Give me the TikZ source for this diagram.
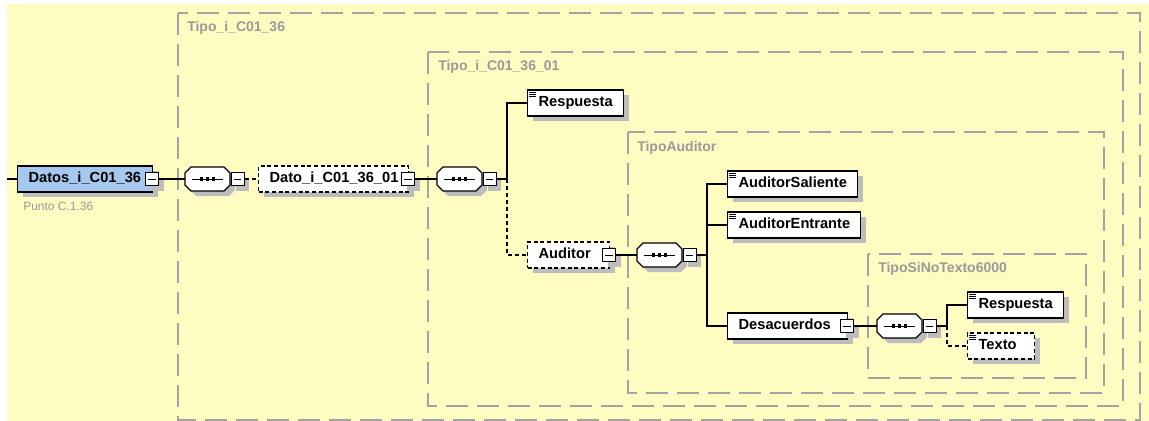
\documentclass[tikz,border=0pt]{standalone}
\usepackage{fontspec}
\setmainfont{Liberation Sans}
\usetikzlibrary{shadows,calc}
\definecolor{bgy}{HTML}{FFFCC1}
\definecolor{cgray}{HTML}{A3A3A3}
\definecolor{lblgray}{HTML}{9A9A9A}
\definecolor{shdgray}{HTML}{BDBDBD}
\definecolor{dblue}{HTML}{A6C8EE}
\newcommand\eltext[2]{\makebox[#1][l]{\hspace{8.25pt}#2}}
\tikzset{
  shd/.style={general shadow={fill=shdgray, shadow xshift=3.75pt, shadow yshift=-3.75pt}},
  elem/.style={draw=black, line width=0.9pt, fill=white, rectangle, inner sep=0pt,
    minimum height=19.5pt, text height=8pt, text depth=2.3pt, anchor=west,
    font=\bfseries\fontsize{11}{13}\selectfont, shd},
  optelem/.style={elem, dash pattern=on 3pt off 2pt},
  minusbtn/.style={draw=black, line width=0.75pt, fill=white, rectangle, inner sep=0pt,
    minimum width=9.75pt, minimum height=9.75pt, shd,
    path picture={\draw[line width=0.75pt] ([xshift=2pt]path picture bounding box.west) -- ([xshift=-2pt]path picture bounding box.east);}},
  cont/.style={draw=cgray, line width=1.1pt, dash pattern=on 16.5pt off 6.75pt},
  clabel/.style={anchor=west, inner sep=0pt, text=lblgray, font=\bfseries\fontsize{10.5}{12}\selectfont},
  plabel/.style={anchor=west, inner sep=0pt, text=lblgray, font=\fontsize{9}{10}\selectfont},
  conn/.style={draw=black, line width=0.9pt},
  optconn/.style={draw=black, line width=0.9pt, dash pattern=on 3pt off 2.25pt},
}
\newcommand\docicon[1]{%
  \draw[line width=0.6pt] ($(#1.north west)+(2,2.5)$) -- ++(7,0)
    ($(#1.north west)+(2,4.5)$) -- ++(7,0)
    ($(#1.north west)+(2,6.5)$) -- ++(7,0);}
\newcommand\seqsym[3]{%
  \node[inner sep=0pt, minimum width=33.75pt, minimum height=18pt, anchor=west] (#1) at (#2,#3) {};
  \begin{scope}[shift={(#2,#3)}]
    \fill[shdgray] (11,-7) -- (44,-7) -- (50,-1) -- (50,11) -- (44,17) -- (11,17) -- (5,11) -- (5,-1) -- cycle;
    \draw[line width=0.9pt, fill=white] (6,-12) -- (39,-12) -- (45,-6) -- (45,6) -- (39,12) -- (6,12) -- (0,6) -- (0,-6) -- cycle;
    \draw[line width=0.75pt] (7,0) -- (38,0);
    \foreach \d in {-6,0,6} \fill ({22.5+\d-1.9},-1.6) rectangle ({22.5+\d+1.9},1.6);
  \end{scope}}
\begin{document}
\begin{tikzpicture}[x=0.75pt,y=-0.75pt]
\useasboundingbox (0,0) rectangle (1149,421);
\fill[bgy] (7,4) rectangle (1149,421);
% containers
\draw[cont] (178,13) rectangle (1140,420);
\node[clabel] (l1) at (187,28) {Tipo\_i\_C01\_36};
\draw[cont] (428,52) rectangle (1123,406);
\node[clabel] (l2) at (438,67) {Tipo\_i\_C01\_36\_01};
\draw[cont] (628,132) rectangle (1104,393);
\node[clabel] (l3) at (637,148) {TipoAuditor};
\draw[cont] (868,254) rectangle (1086,378);
\node[clabel] (l4) at (878,269) {TipoSiNoTexto6000};
% root
\coordinate (in) at (7,179);
\node[elem, fill=dblue] (datos) at (17,179) {\eltext{101.25pt}{Datos\_i\_C01\_36}};
\node[minusbtn] (md) at ([xshift=-0.75pt]datos.east) {};
\node[plabel] (punto) at (23,206) {Punto C.1.36};
\draw[conn] (in) -- (datos.west);
% seq 1
\seqsym{s1}{185}{179}
\node[minusbtn, anchor=west] (ms1) at (s1.east) {};
\draw[conn] (md.east) -- (s1.west);
% Dato
\node[optelem] (dato) at (258,179) {\eltext{112.5pt}{Dato\_i\_C01\_36\_01}};
\node[minusbtn] (mdato) at ([xshift=-0.75pt]dato.east) {};
\draw[optconn] (ms1.east) -- (dato.west);
% seq 2
\seqsym{s2}{437}{179}
\node[minusbtn, anchor=west] (ms2) at (s2.east) {};
\draw[conn] (mdato.east) -- (s2.west);
\node[elem] (resp) at (527,103) {\eltext{72pt}{Respuesta}};
\docicon{resp}
\node[optelem] (aud) at (527,255) {\eltext{61.5pt}{Auditor}};
\node[minusbtn] (maud) at ([xshift=-0.75pt]aud.east) {};
\coordinate (j2) at (507,179);
\draw[conn] (ms2.east) -- (j2) |- (resp.west);
\draw[optconn] (j2) |- (aud.west);
% seq 3
\seqsym{s3}{637}{255}
\node[minusbtn, anchor=west] (ms3) at (s3.east) {};
\draw[conn] (maud.east) -- (s3.west);
\node[elem] (sal) at (727,184) {\eltext{97.5pt}{AuditorSaliente}};
\docicon{sal}
\node[elem] (ent) at (727,225) {\eltext{99.75pt}{AuditorEntrante}};
\docicon{ent}
\node[elem] (des) at (727,326) {\eltext{90pt}{Desacuerdos}};
\node[minusbtn] (mdes) at ([xshift=-0.75pt]des.east) {};
\coordinate (j3) at (707,255);
\draw[conn] (ms3.east) -- (j3);
\draw[conn] (j3) |- (sal.west);
\draw[conn] (j3) |- (ent.west);
\draw[conn] (j3) |- (des.west);
% seq 4
\seqsym{s4}{877}{326}
\node[minusbtn, anchor=west] (ms4) at (s4.east) {};
\draw[conn] (mdes.east) -- (s4.west);
\node[elem] (resp2) at (967,305) {\eltext{72pt}{Respuesta}};
\docicon{resp2}
\node[optelem] (texto) at (967,346) {\eltext{50.25pt}{Texto}};
\docicon{texto}
\coordinate (j4) at (947,326);
\draw[conn] (ms4.east) -- (j4) |- (resp2.west);
\draw[optconn] (j4) |- (texto.west);
\end{tikzpicture}
\end{document}
